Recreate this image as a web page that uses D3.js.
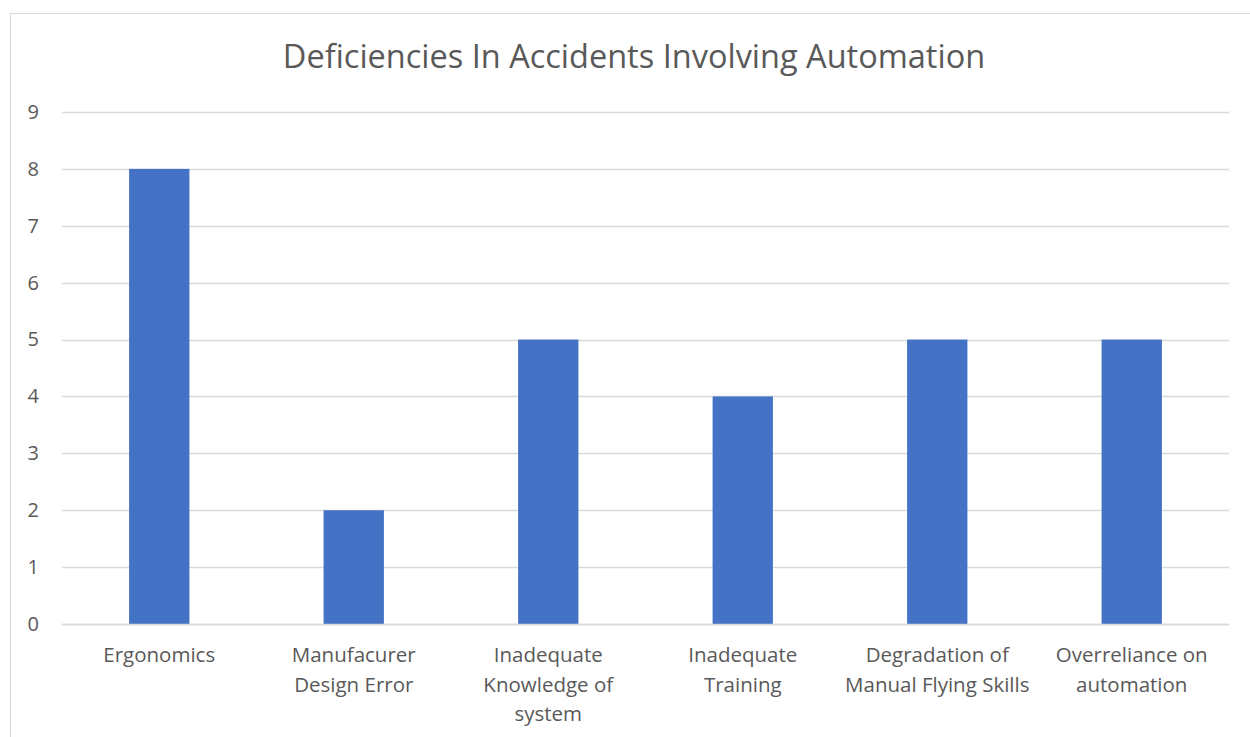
<!DOCTYPE html>
<html>
<head>
<meta charset="utf-8">
<script src="https://cdn.jsdelivr.net/npm/d3@7"></script>
<style>
  body { margin: 0; background: #fff; }
  svg { display: block; font-family: "Open Sans", "Noto Sans", sans-serif; }
</style>
</head>
<body>
<svg id="chart" width="1250" height="737"></svg>
<script>
// data dari gambar
const categories = ["Ergonomics", "Manufacurer Design Error", "Inadequate Knowledge of system",
  "Inadequate Training", "Degradation of Manual Flying Skills", "Overreliance on automation"];
const labelLines = [
  ["Ergonomics"],
  ["Manufacurer", "Design Error"],
  ["Inadequate", "Knowledge of", "system"],
  ["Inadequate", "Training"],
  ["Degradation of", "Manual Flying Skills"],
  ["Overreliance on", "automation"]
];
const values = [8, 2, 5, 4, 5, 5];
const yTicks = [0, 1, 2, 3, 4, 5, 6, 7, 8, 9];
const title = "Deficiencies In Accidents Involving Automation";

const width = 1250, height = 737;
const margin = { top: 112, right: 21, bottom: 113, left: 62 };
const svg = d3.select("#chart");

// bingkai chart
svg.append("rect")
  .attr("x", 10.5).attr("y", 13.5)
  .attr("width", 1260).attr("height", 740)
  .attr("fill", "#fff").attr("stroke", "#d9d9d9").attr("stroke-width", 1);

// --- SKALA ---
const x = d3.scaleBand()
  .domain(categories)
  .range([margin.left, width - margin.right])
  .padding(0);

const y = d3.scaleLinear()
  .domain([0, 9])
  .range([height - margin.bottom, margin.top]);

// grid
svg.append("g").selectAll("line").data(yTicks).enter().append("line")
  .attr("x1", margin.left).attr("x2", width - margin.right)
  .attr("y1", d => Math.round(y(d)) + 0.5).attr("y2", d => Math.round(y(d)) + 0.5)
  .attr("stroke", "#d9d9d9").attr("stroke-width", 1.3);

// y axis labels
const yAxis = svg.append("g")
  .attr("transform", `translate(${margin.left},0)`)
  .call(d3.axisLeft(y).tickValues(yTicks).tickSize(0).tickPadding(23));
yAxis.select(".domain").remove();
yAxis.selectAll("text").attr("font-size", 20).attr("fill", "#595959")
  .attr("font-family", "'Open Sans', sans-serif");

// bars
const barW = x.bandwidth() * 0.31;
svg.append("g").selectAll("rect").data(values).enter().append("rect")
  .attr("x", (d, i) => x(categories[i]) + (x.bandwidth() - barW) / 2)
  .attr("y", d => y(d))
  .attr("width", barW)
  .attr("height", d => y(0) - y(d))
  .attr("fill", "#4472c4");

// baris sumbu bawah
svg.append("line")
  .attr("x1", margin.left).attr("x2", width - margin.right)
  .attr("y1", Math.round(y(0)) + 0.5).attr("y2", Math.round(y(0)) + 0.5)
  .attr("stroke", "#d9d9d9").attr("stroke-width", 1.3);

// category labels
const lbl = svg.append("g").selectAll("text").data(categories).enter().append("text")
  .attr("x", d => x(d) + x.bandwidth() / 2)
  .attr("y", 662)
  .attr("text-anchor", "middle")
  .attr("font-size", 20.5).attr("fill", "#595959");
lbl.each(function (d, i) {
  d3.select(this).selectAll("tspan").data(labelLines[i]).enter().append("tspan")
    .attr("x", x(d) + x.bandwidth() / 2)
    .attr("dy", (t, j) => j === 0 ? 0 : 29.5)
    .text(t => t);
});

// judul
svg.append("text")
  .attr("x", 634).attr("y", 68)
  .attr("text-anchor", "middle")
  .attr("font-size", 32.5).attr("fill", "#595959")
  .text(title);
</script>
</body>
</html>
